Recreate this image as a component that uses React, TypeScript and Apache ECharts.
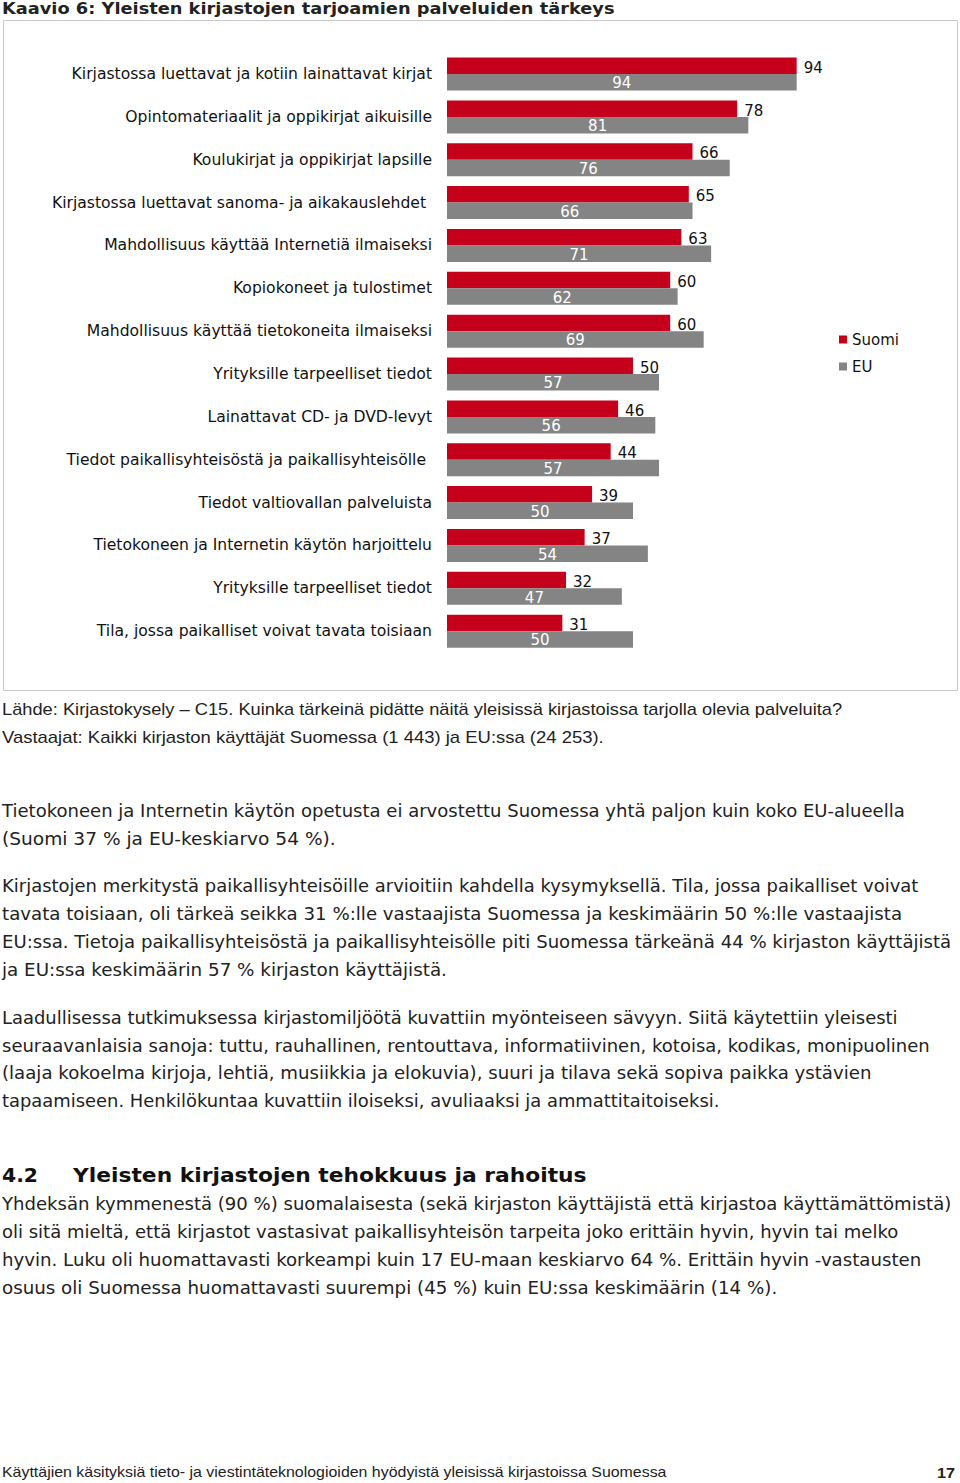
import React, { useEffect, useRef } from "react";
import * as echarts from "echarts";

const categories = [
  "Kirjastossa luettavat ja kotiin lainattavat kirjat",
  "Opintomateriaalit ja oppikirjat aikuisille",
  "Koulukirjat ja oppikirjat lapsille",
  "Kirjastossa luettavat sanoma- ja aikakauslehdet",
  "Mahdollisuus käyttää Internetiä ilmaiseksi",
  "Kopiokoneet ja tulostimet",
  "Mahdollisuus käyttää tietokoneita ilmaiseksi",
  "Yrityksille tarpeelliset tiedot",
  "Lainattavat CD- ja DVD-levyt",
  "Tiedot paikallisyhteisöstä ja paikallisyhteisölle",
  "Tiedot valtiovallan palveluista",
  "Tietokoneen ja Internetin käytön harjoittelu",
  "Yrityksille tarpeelliset tiedot",
  "Tila, jossa paikalliset voivat tavata toisiaan",
];

const suomi = [94, 78, 66, 65, 63, 60, 60, 50, 46, 44, 39, 37, 32, 31];
const eu = [94, 81, 76, 66, 71, 62, 69, 57, 56, 57, 50, 54, 47, 50];
const seriesNames = ["Suomi", "EU"];
// labels in the source that sit a little further left (trailing space in original)
const paddedLabels = [3, 9];

const titleText = "Kaavio 6: Yleisten kirjastojen tarjoamien palveluiden tärkeys";

const pageLines = [
  { t: titleText, x: 2, y: 8, r: 615, f: "title" },
  { t: "Lähde: Kirjastokysely – C15. Kuinka tärkeinä pidätte näitä yleisissä kirjastoissa tarjolla olevia palveluita?", x: 2, y: 709, r: 843, f: "src" },
  { t: "Vastaajat: Kaikki kirjaston käyttäjät Suomessa (1 443) ja EU:ssa (24 253).", x: 2, y: 737, r: 604, f: "src" },
  { t: "Tietokoneen ja Internetin käytön opetusta ei arvostettu Suomessa yhtä paljon kuin koko EU-alueella", x: 2, y: 811, r: 906, f: "body" },
  { t: "(Suomi 37 % ja EU-keskiarvo 54 %).", x: 2, y: 839, r: 336, f: "body" },
  { t: "Kirjastojen merkitystä paikallisyhteisöille arvioitiin kahdella kysymyksellä. Tila, jossa paikalliset voivat", x: 2, y: 886, r: 919, f: "body" },
  { t: "tavata toisiaan, oli tärkeä seikka 31 %:lle vastaajista Suomessa ja keskimäärin 50 %:lle vastaajista", x: 2, y: 914, r: 903, f: "body" },
  { t: "EU:ssa. Tietoja paikallisyhteisöstä ja paikallisyhteisölle piti Suomessa tärkeänä 44 % kirjaston käyttäjistä", x: 2, y: 942, r: 952, f: "body" },
  { t: "ja EU:ssa keskimäärin 57 % kirjaston käyttäjistä.", x: 2, y: 970, r: 447, f: "body" },
  { t: "Laadullisessa tutkimuksessa kirjastomiljöötä kuvattiin myönteiseen sävyyn. Siitä käytettiin yleisesti", x: 2, y: 1018, r: 898, f: "body" },
  { t: "seuraavanlaisia sanoja: tuttu, rauhallinen, rentouttava, informatiivinen, kotoisa, kodikas, monipuolinen", x: 2, y: 1046, r: 931, f: "body" },
  { t: "(laaja kokoelma kirjoja, lehtiä, musiikkia ja elokuvia), suuri ja tilava sekä sopiva paikka ystävien", x: 2, y: 1073, r: 872, f: "body" },
  { t: "tapaamiseen. Henkilökuntaa kuvattiin iloiseksi, avuliaaksi ja ammattitaitoiseksi.", x: 2, y: 1101, r: 720, f: "body" },
  { t: "4.2", x: 2, y: 1175, r: 38, f: "head" },
  { t: "Yleisten kirjastojen tehokkuus ja rahoitus", x: 73, y: 1175, r: 587, f: "head" },
  { t: "Yhdeksän kymmenestä (90 %) suomalaisesta (sekä kirjaston käyttäjistä että kirjastoa käyttämättömistä)", x: 2, y: 1204, r: 952, f: "body" },
  { t: "oli sitä mieltä, että kirjastot vastasivat paikallisyhteisön tarpeita joko erittäin hyvin, hyvin tai melko", x: 2, y: 1232, r: 899, f: "body" },
  { t: "hyvin. Luku oli huomattavasti korkeampi kuin 17 EU-maan keskiarvo 64 %. Erittäin hyvin -vastausten", x: 2, y: 1260, r: 922, f: "body" },
  { t: "osuus oli Suomessa huomattavasti suurempi (45 %) kuin EU:ssa keskimäärin (14 %).", x: 2, y: 1288, r: 778, f: "body" },
  { t: "Käyttäjien käsityksiä tieto- ja viestintäteknologioiden hyödyistä yleisissä kirjastoissa Suomessa", x: 2, y: 1472, r: 667, f: "foot" },
  { t: "17", x: 937, y: 1473, r: 955, f: "footb" },
];

const fonts: Record<string, { family: string; size: number; weight: string; color: string }> = {
  title: { family: "DejaVu Sans", size: 16, weight: "bold", color: "#222" },
  src: { family: "Liberation Sans", size: 16, weight: "normal", color: "#222" },
  body: { family: "DejaVu Sans", size: 17, weight: "normal", color: "#222" },
  head: { family: "DejaVu Sans", size: 20, weight: "bold", color: "#111" },
  foot: { family: "Liberation Sans", size: 14, weight: "normal", color: "#222" },
  footb: { family: "Liberation Sans", size: 15, weight: "bold", color: "#222" },
};

function measure(ctx: CanvasRenderingContext2D, text: string, f: { family: string; size: number; weight: string }) {
  ctx.font = `${f.weight} ${f.size}px '${f.family}'`;
  return ctx.measureText(text).width;
}

export default function App() {
  const ref = useRef<HTMLDivElement>(null);
  useEffect(() => {
    if (!ref.current) return;
    const chart = echarts.init(ref.current, undefined, { renderer: "svg" });
    const canvas = document.createElement("canvas");
    const ctx = canvas.getContext("2d")!;

    const textEls = pageLines.map((l) => {
      const f = fonts[l.f];
      const w = measure(ctx, l.t, f);
      const sx = w > 0 ? (l.r - l.x) / w : 1;
      return {
        type: "text",
        x: l.x,
        y: l.y,
        scaleX: sx,
        silent: true,
        style: {
          text: l.t,
          fontFamily: f.family,
          fontSize: f.size,
          fontWeight: f.weight,
          fill: f.color,
          textAlign: "left",
          textVerticalAlign: "middle",
          verticalAlign: "middle",
        },
      };
    });

    const labelFont = "DejaVu Sans";
    const labelSize = 15.6;

    chart.setOption({
      animation: false,
      backgroundColor: "#fff",
      graphic: [
        {
          type: "rect",
          silent: true,
          z: -10,
          shape: { x: 3.5, y: 20.5, width: 954, height: 670 },
          style: { fill: "none", stroke: "#c8c8c8", lineWidth: 1 },
        },
        ...textEls,
      ],
      legend: {
        data: seriesNames,
        orient: "vertical",
        left: 834,
        top: 327,
        icon: "rect",
        itemWidth: 8,
        itemHeight: 8,
        itemGap: 12,
        textStyle: { fontFamily: labelFont, fontSize: 15, color: "#111" },
      },
      grid: { left: 447, top: 52.6, width: 372, height: 600, containLabel: false },
      xAxis: {
        type: "value",
        min: 0,
        max: 100,
        show: false,
      },
      yAxis: {
        type: "category",
        data: categories,
        inverse: true,
        axisLine: { show: false },
        axisTick: { show: false },
        axisLabel: {
          fontFamily: labelFont,
          fontSize: labelSize,
          color: "#111",
          margin: 15,
          formatter: (v: string, i: number) => (paddedLabels.includes(i) ? `{p|${v}}` : v),
          rich: {
            p: {
              fontFamily: labelFont,
              fontSize: labelSize,
              color: "#111",
              padding: [0, 6, 0, 0],
            },
          },
        },
      },
      series: [
        {
          name: seriesNames[0],
          type: "bar",
          data: suomi,
          barWidth: 16.5,
          barGap: "0%",
          itemStyle: { color: "#C4001A" },
          label: {
            show: true,
            position: "right",
            distance: 7,
            offset: [0, 2],
            color: "#111",
            fontFamily: labelFont,
            fontSize: 15,
          },
        },
        {
          name: seriesNames[1],
          type: "bar",
          data: eu,
          barWidth: 16.5,
          barGap: "0%",
          itemStyle: { color: "#848484" },
          label: {
            show: true,
            position: "inside",
            offset: [0, 1],
            color: "#fff",
            fontFamily: labelFont,
            fontSize: 15,
          },
        },
      ],
    });
    return () => chart.dispose();
  }, []);
  return (
    <div
      ref={ref}
      style={{ position: "absolute", left: 0, top: 0, width: 960, height: 1483, background: "#fff" }}
    />
  );
}
